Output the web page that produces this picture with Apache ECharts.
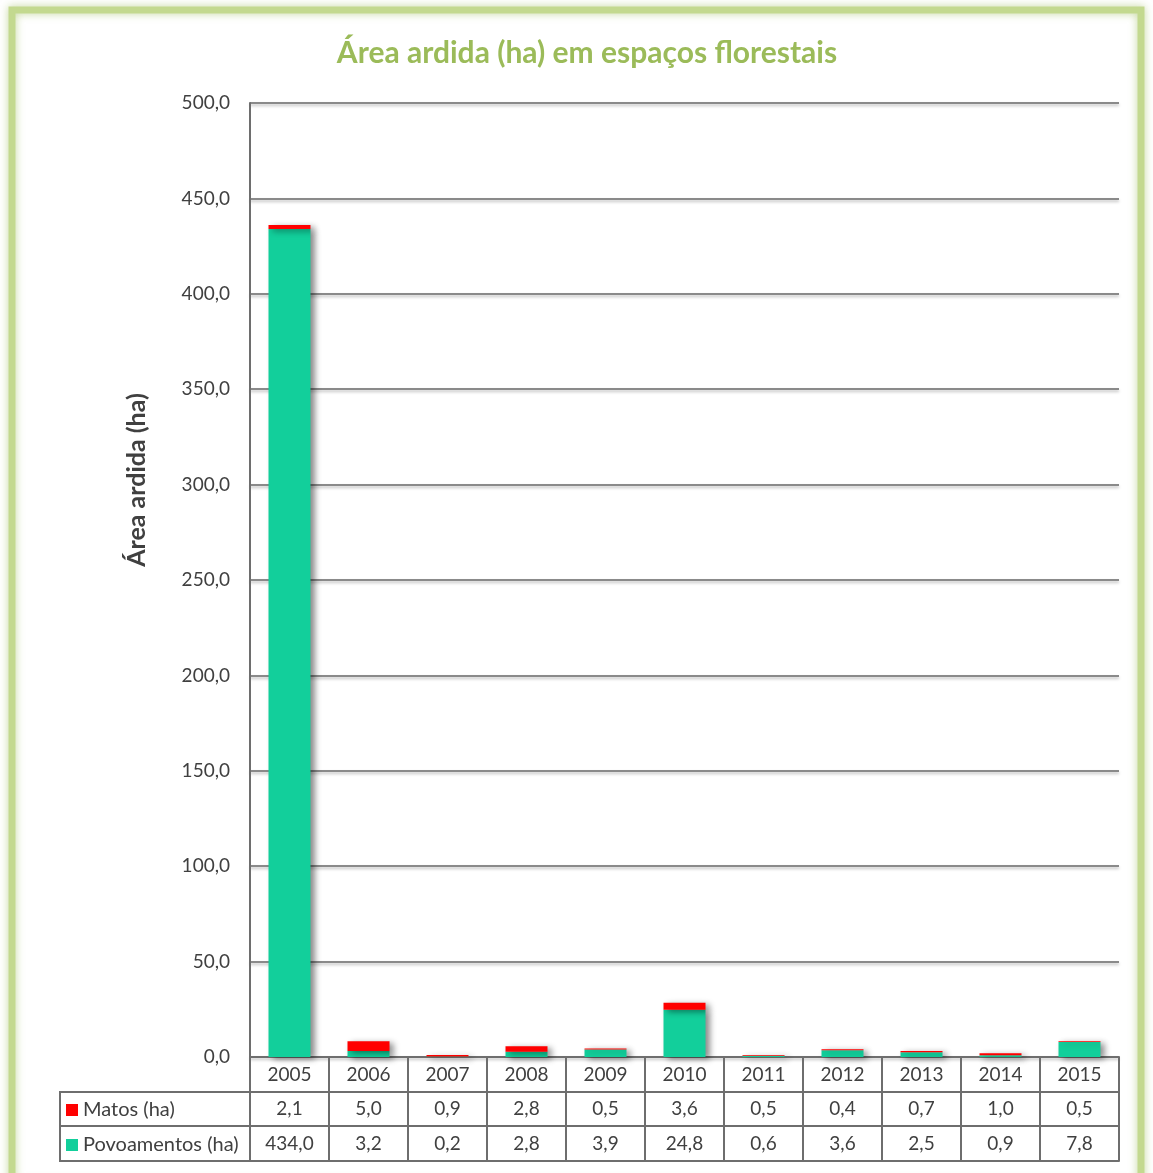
<!DOCTYPE html>
<html><head><meta charset="utf-8">
<script src="https://cdn.jsdelivr.net/npm/echarts@6/dist/echarts.min.js"></script>
<style>html,body{margin:0;padding:0;background:#fff}#c{width:1153px;height:1173px}</style>
</head><body><div id="c"></div>
<script>
const years = ['2005','2006','2007','2008','2009','2010','2011','2012','2013','2014','2015'];
const matos = [2.1,5.0,0.9,2.8,0.5,3.6,0.5,0.4,0.7,1.0,0.5];
const povoamentos = [434.0,3.2,0.2,2.8,3.9,24.8,0.6,3.6,2.5,0.9,7.8];
const seriesNames = ['Matos (ha)','Povoamentos (ha)'];
const titleText = 'Área ardida (ha) em espaços florestais';
const yName = 'Área ardida (ha)';

const fmt = v => Number(v).toFixed(1).replace('.', ',');
const FONT = 'Lato';
const TXT = '#404040';
const LINE = '#6e6e6e';

const chart = echarts.init(document.getElementById('c'));
const hiddenAxis = (data, offset, showLabels, margin) => ({
  type: 'category', gridIndex: 0, position: 'bottom', offset: offset, data: data,
  axisLine: {show: true, lineStyle: {color: LINE, width: 2}},
  axisTick: {show: false},
  axisLabel: {show: showLabels, margin: margin, fontFamily: FONT, fontSize: 19, color: TXT, interval: 0, formatter: v => v},
  splitLine: {show: false}
});
chart.setOption({
  animation: false,
  backgroundColor: '#fff',
  title: {text: titleText, left: 582, top: 33, textAlign: 'center',
    textStyle: {fontFamily: FONT, fontSize: 30, fontWeight: 'bold', color: '#9BBB59'}},
  grid: {left: 250, right: 34, top: 103, bottom: 116},
  legend: {data: seriesNames, orient: 'vertical', left: 66, top: 1100, itemGap: 15, padding: 0,
    itemWidth: 12, itemHeight: 12, icon: 'rect',
    textStyle: {fontFamily: FONT, fontSize: 20, color: TXT, padding: [0,0,0,0]}},
  xAxis: [
    {type: 'category', data: years, gridIndex: 0, position: 'bottom',
      axisLine: {show: true, lineStyle: {color: LINE, width: 2}},
      axisTick: {show: true, alignWithLabel: false, interval: 0, inside: false, length: 104, lineStyle: {color: LINE, width: 2}},
      axisLabel: {margin: 8, fontFamily: FONT, fontSize: 19, color: TXT, interval: 0}},
    hiddenAxis(matos.map(fmt), 35, true, 7),
    hiddenAxis(povoamentos.map(fmt), 69, true, 8),
    hiddenAxis(years.map(() => ''), 104, false, 0)
  ],
  yAxis: {type: 'value', min: 0, max: 500, interval: 50,
    axisLine: {show: true, lineStyle: {color: LINE, width: 2}},
    axisTick: {show: false},
    axisLabel: {formatter: fmt, margin: 20, fontFamily: FONT, fontSize: 19, color: TXT},
    splitLine: {lineStyle: {color: '#8a8a8a', width: 2, shadowColor: 'rgba(0,0,0,0.25)', shadowBlur: 3, shadowOffsetY: 2}}},
  series: [
    {name: seriesNames[1], type: 'bar', stack: 't', data: povoamentos, barWidth: 42, xAxisIndex: 0,
      itemStyle: {color: '#12CF9B', shadowColor: 'rgba(0,0,0,0.45)', shadowBlur: 6, shadowOffsetX: 4, shadowOffsetY: 2}},
    {name: seriesNames[0], type: 'bar', stack: 't', data: matos, barWidth: 42, xAxisIndex: 0,
      itemStyle: {color: '#FF0000', shadowColor: 'rgba(0,0,0,0.45)', shadowBlur: 6, shadowOffsetX: 4, shadowOffsetY: 2}}
  ],
  graphic: [
    {type: 'rect', shape: {x: 12, y: 10, width: 1129, height: 1175}, z: -10,
      style: {fill: 'none', stroke: '#C3D98F', lineWidth: 7, shadowColor: 'rgba(155,187,89,0.6)', shadowBlur: 8}},
    {type: 'text', x: 137, y: 480, rotation: Math.PI / 2,
      style: {text: yName, fontFamily: FONT, fontSize: 25, fontWeight: 'bold', fill: TXT, align: 'center', verticalAlign: 'middle'}},
    {type: 'line', shape: {x1: 60, y1: 1092, x2: 250, y2: 1092}, style: {stroke: LINE, lineWidth: 2}},
    {type: 'line', shape: {x1: 60, y1: 1126, x2: 250, y2: 1126}, style: {stroke: LINE, lineWidth: 2}},
    {type: 'line', shape: {x1: 60, y1: 1161, x2: 250, y2: 1161}, style: {stroke: LINE, lineWidth: 2}},
    {type: 'line', shape: {x1: 60, y1: 1091, x2: 60, y2: 1162}, style: {stroke: LINE, lineWidth: 2}}
  ]
});
</script></body></html>
